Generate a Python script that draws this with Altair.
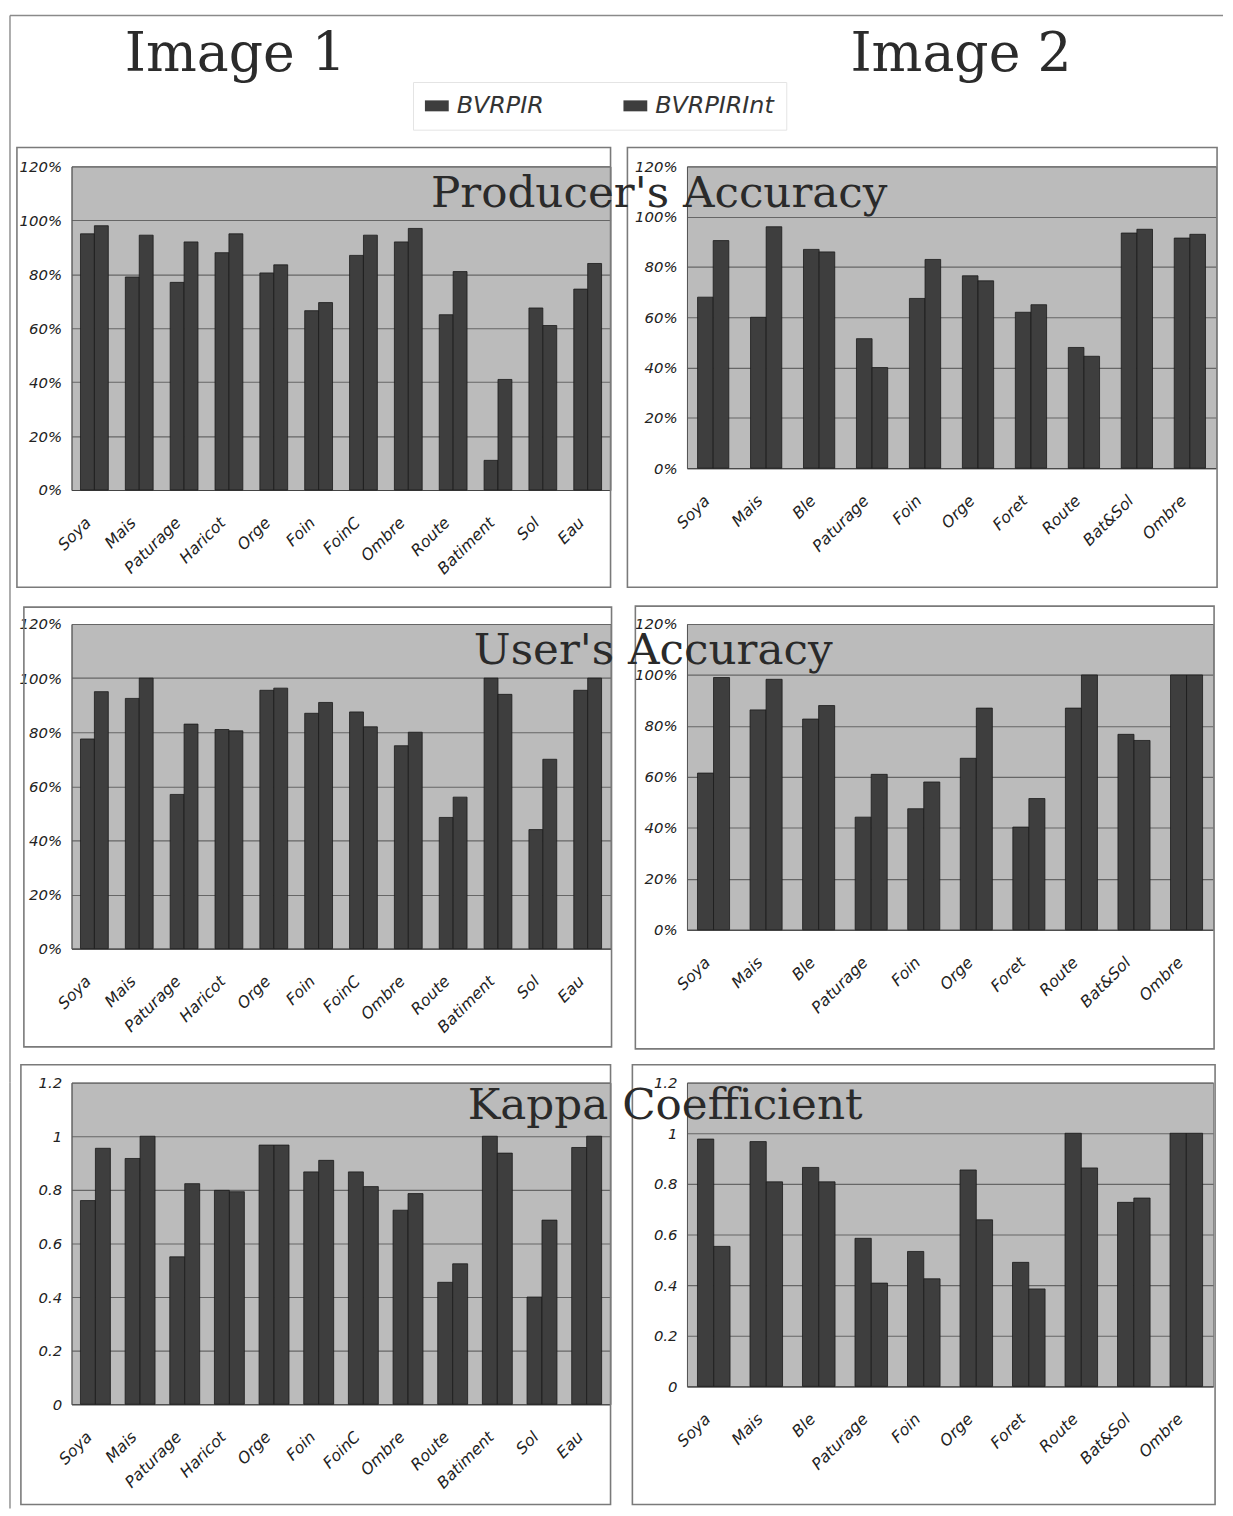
import altair as alt
import pandas as pd

# ---------------- data ----------------
SERIES = ["BVRPIR", "BVRPIRInt"]
HEADERS = ["Image 1", "Image 2"]
ROW_TITLES = ["Producer's Accuracy", "User's Accuracy", "Kappa Coefficient"]

CLASSES_1 = ["Soya", "Mais", "Paturage", "Haricot", "Orge", "Foin", "FoinC",
             "Ombre", "Route", "Batiment", "Sol", "Eau"]
CLASSES_2 = ["Soya", "Mais", "Ble", "Paturage", "Foin", "Orge", "Foret",
             "Route", "Bat&Sol", "Ombre"]

Y_TICKS = [0, 0.2, 0.4, 0.6, 0.8, 1.0, 1.2]

# Producer's accuracy
PA1_BVRPIR = [0.95, 0.79, 0.77, 0.88, 0.805, 0.665, 0.87, 0.92, 0.65, 0.11, 0.675, 0.745]
PA1_INT = [0.98, 0.945, 0.92, 0.95, 0.835, 0.695, 0.945, 0.97, 0.81, 0.41, 0.61, 0.84]
PA2_BVRPIR = [0.68, 0.60, 0.87, 0.515, 0.675, 0.765, 0.62, 0.48, 0.935, 0.915]
PA2_INT = [0.905, 0.96, 0.86, 0.40, 0.83, 0.745, 0.65, 0.445, 0.95, 0.93]
# User's accuracy
UA1_BVRPIR = [0.775, 0.925, 0.57, 0.81, 0.955, 0.87, 0.875, 0.75, 0.485, 1.0, 0.44, 0.955]
UA1_INT = [0.95, 1.0, 0.83, 0.805, 0.963, 0.91, 0.82, 0.80, 0.56, 0.94, 0.70, 1.0]
UA2_BVRPIR = [0.615, 0.863, 0.827, 0.442, 0.475, 0.673, 0.403, 0.87, 0.767, 1.0]
UA2_INT = [0.99, 0.983, 0.88, 0.61, 0.58, 0.87, 0.515, 1.0, 0.743, 1.0]
# Kappa coefficient
K1_BVRPIR = [0.76, 0.917, 0.55, 0.798, 0.967, 0.867, 0.867, 0.724, 0.455, 1.0, 0.40, 0.958]
K1_INT = [0.955, 1.0, 0.823, 0.793, 0.967, 0.91, 0.812, 0.786, 0.524, 0.937, 0.687, 1.0]
K2_BVRPIR = [0.977, 0.967, 0.865, 0.585, 0.533, 0.855, 0.49, 1.0, 0.727, 1.0]
K2_INT = [0.553, 0.808, 0.808, 0.408, 0.425, 0.658, 0.385, 0.863, 0.744, 1.0]

# ---------------- styles ----------------
BAR = "#3e3e3e"
PLOT_BG = "#bbbbbb"
GRID = "#666666"
FRAME = "#7a7a7a"
BORDER = "#8a8a8a"
LABEL_FONT = "DejaVu Sans"
SERIF = "DejaVu Serif"

LEGEND = alt.Legend(
    orient="none", legendX=344, legendY=67, direction="horizontal", title=None,
    symbolType="M-1,-0.46H1V0.46H-1Z", symbolSize=576, symbolStrokeWidth=0,
    labelFont=LABEL_FONT, labelFontStyle="italic", labelFontSize=24,
    labelColor="#333333", labelOffset=8, columnPadding=80, padding=12,
    strokeColor="#e4e4e4",
)


def one(label=""):
    return alt.Data(values=[{"label": label}])


def panel(classes, a, b, fmt, w, h, pad_inner, frame, border=None,
          title=None, title_xy=None):
    df = pd.DataFrame({
        "classe": classes * 2,
        "serie": [SERIES[0]] * len(classes) + [SERIES[1]] * len(classes),
        "valeur": a + b,
    })
    bars = alt.Chart(df).mark_bar(stroke="#1a1a1a", strokeWidth=0.8).encode(
        x=alt.X("classe:N", sort=classes, title=None,
                scale=alt.Scale(paddingInner=pad_inner, paddingOuter=0.2),
                axis=alt.Axis(labelAngle=-45, labelAlign="right", labelBaseline="middle",
                              labelFont=LABEL_FONT, labelFontStyle="italic",
                              labelFontSize=16, labelColor="#222222",
                              labelPadding=30, labelOffset=-6, ticks=False,
                              domain=True, domainColor="#444444", grid=False)),
        xOffset=alt.XOffset("serie:N", sort=SERIES,
                            scale=alt.Scale(paddingInner=0, paddingOuter=0)),
        y=alt.Y("valeur:Q", title=None,
                scale=alt.Scale(domain=[0, 1.2], nice=False),
                axis=alt.Axis(values=Y_TICKS, format=fmt, labelFont=LABEL_FONT,
                              labelFontStyle="italic", labelFontSize=15,
                              labelColor="#222222", labelPadding=10, ticks=False,
                              domain=True, domainColor="#555555",
                              grid=True, gridColor=GRID, gridWidth=1.1)),
        color=alt.Color("serie:N",
                        scale=alt.Scale(domain=SERIES, range=[BAR, BAR]),
                        legend=LEGEND),
    )
    fx1, fx2, fy1, fy2 = frame
    layers = [
        bars,
        alt.Chart(one()).mark_rect(filled=False, stroke=FRAME, strokeWidth=1.6).encode(
            x=alt.value(fx1), x2=alt.value(fx2), y=alt.value(fy1), y2=alt.value(fy2)),
    ]
    if border is not None:
        bx, by1, by2 = border
        layers.append(alt.Chart(one()).mark_rule(stroke=BORDER, strokeWidth=1.4).encode(
            x=alt.value(bx), y=alt.value(by1), y2=alt.value(by2)))
    if title is not None:
        layers.append(alt.Chart(one(title)).mark_text(
            font=SERIF, fontSize=44, align="center", baseline="alphabetic",
            color="#2a2a2a").encode(
            x=alt.value(title_xy[0]), y=alt.value(title_xy[1]), text="label:N"))
    return alt.layer(*layers).properties(
        width=w, height=h,
        view=alt.ViewBackground(fill=PLOT_BG, stroke="#808080", strokeWidth=1))


def header_text(label, x):
    return alt.Chart(one(label)).mark_text(
        font=SERIF, fontSize=54, align="center", baseline="alphabetic",
        color="#2b2b2b").encode(x=alt.value(x), y=alt.value(56), text="label:N")


NO_VIEW = alt.ViewBackground(fill="transparent", stroke="transparent")
LW = 543  # left column plot width

head_left = alt.layer(
    header_text(HEADERS[0], 165),
    alt.Chart(one()).mark_rule(stroke=BORDER, strokeWidth=1.4).encode(
        x=alt.value(-62), x2=alt.value(1160), y=alt.value(0)),
).properties(width=LW, height=17, view=NO_VIEW)

head_right = alt.layer(
    header_text(HEADERS[1], 276),
).properties(width=533, height=17, view=NO_VIEW)

# ---------------- panels ----------------
p1 = panel(CLASSES_1, PA1_BVRPIR, PA1_INT, ".0%", LW, 326, 0.38,
           (-55, LW, -19, 424), border=(-62, -152, 461))
p2 = panel(CLASSES_2, PA2_BVRPIR, PA2_INT, ".0%", 533, 304, 0.41,
           (-60, 534, -19, 424), title=ROW_TITLES[0], title_xy=(-28, 41))
p3 = panel(CLASSES_1, UA1_BVRPIR, UA1_INT, ".0%", LW, 327, 0.38,
           (-48, LW + 1, -17, 426), border=(-62, 0, 462))
p4 = panel(CLASSES_2, UA2_BVRPIR, UA2_INT, ".0%", 530, 308, 0.39,
           (-52, 531, -18, 428), title=ROW_TITLES[1], title_xy=(-34, 40))
p5 = panel(CLASSES_1, K1_BVRPIR, K1_INT, "~g", LW, 324, 0.33,
           (-51, LW, -18, 425), border=(-62, 0, 429))
p6 = panel(CLASSES_2, K2_BVRPIR, K2_INT, "~g", 530, 306, 0.38,
           (-55, 532, -18, 425), title=ROW_TITLES[2], title_xy=(-22, 37))

chart = alt.concat(
    head_left, head_right, p1, p2, p3, p4, p5, p6,
    columns=2, spacing={"row": 135, "column": 77}, bounds="flush", align="each",
).resolve_scale(xOffset="independent").properties(
    padding={"left": 0, "top": 0, "right": 0, "bottom": 0}, background="white"
)

chart.save("out.html", embed_options={"renderer": "svg", "actions": False})
